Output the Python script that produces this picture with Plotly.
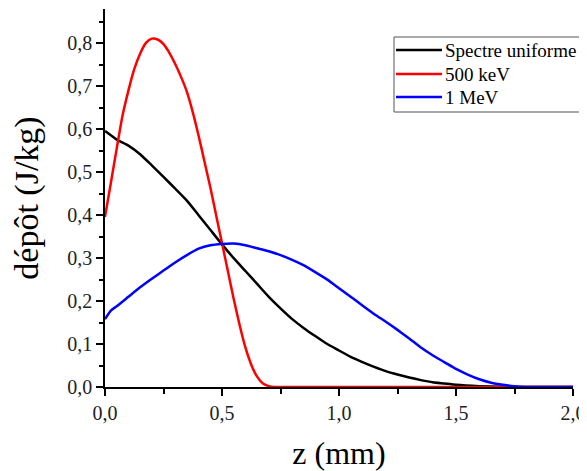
import plotly.graph_objects as go

# ---- data ----
series_names = ["Spectre uniforme", "500 keV", "1 MeV"]
series_colors = ["#000000", "#FF0000", "#0000FF"]

z_red = [0, 0.025, 0.05, 0.075, 0.1, 0.125, 0.15, 0.175, 0.2, 0.225, 0.25, 0.275, 0.3,
         0.325, 0.35, 0.375, 0.4, 0.425, 0.45, 0.475, 0.5, 0.525, 0.55, 0.575, 0.6,
         0.625, 0.65, 0.675, 0.7, 0.725, 0.75, 1.0, 1.5, 2.0]
dep_500keV = [0.396, 0.475, 0.555, 0.632, 0.69, 0.74, 0.776, 0.801, 0.811, 0.809, 0.798,
              0.778, 0.752, 0.722, 0.687, 0.64, 0.585, 0.525, 0.465, 0.40, 0.335, 0.27,
              0.205, 0.145, 0.092, 0.052, 0.024, 0.008, 0.002, 0.0, 0.0, 0.0, 0.0, 0.0]

z_black = [0, 0.025, 0.05, 0.1, 0.15, 0.2, 0.25, 0.3, 0.35, 0.4, 0.45, 0.5, 0.55, 0.6,
           0.65, 0.7, 0.75, 0.8, 0.85, 0.9, 0.95, 1.0, 1.05, 1.1, 1.15, 1.2, 1.25, 1.3,
           1.35, 1.4, 1.45, 1.5, 1.6, 1.7, 1.8, 2.0]
dep_uniforme = [0.596, 0.586, 0.576, 0.562, 0.542, 0.516, 0.489, 0.462, 0.434, 0.4, 0.366,
                0.332, 0.3, 0.27, 0.24, 0.21, 0.183, 0.158, 0.137, 0.118, 0.1, 0.085,
                0.07, 0.058, 0.047, 0.037, 0.029, 0.022, 0.016, 0.011, 0.008, 0.005,
                0.002, 0.0005, 0.0, 0.0]

z_blue = [0, 0.025, 0.05, 0.1, 0.15, 0.2, 0.25, 0.3, 0.35, 0.4, 0.45, 0.5, 0.55, 0.6,
          0.65, 0.7, 0.75, 0.8, 0.85, 0.9, 0.95, 1.0, 1.05, 1.1, 1.15, 1.2, 1.25, 1.3,
          1.35, 1.4, 1.45, 1.5, 1.55, 1.6, 1.65, 1.7, 1.75, 1.8, 2.0]
dep_1MeV = [0.158, 0.178, 0.188, 0.21, 0.232, 0.252, 0.271, 0.29, 0.307, 0.322, 0.33,
            0.333, 0.334, 0.33, 0.323, 0.316, 0.307, 0.296, 0.283, 0.267, 0.25, 0.23,
            0.21, 0.19, 0.17, 0.152, 0.133, 0.113, 0.092, 0.074, 0.058, 0.042, 0.029,
            0.018, 0.01, 0.005, 0.0015, 0.0, 0.0]

x_ticks = [0.0, 0.5, 1.0, 1.5, 2.0]
y_ticks = [0.0, 0.1, 0.2, 0.3, 0.4, 0.5, 0.6, 0.7, 0.8]

FONT = "Liberation Serif, Times New Roman, serif"

# page has an 8px body margin; figure sized so it ends at the window edge
OFF = 8
W, H = 587 - OFF, 471 - OFF
ML, MR, MT, MB = 105 - OFF, 14, 9 - OFF, 84
PW, PH = W - ML - MR, H - MT - MB


def px_x(p):
    return (p - OFF - ML) / PW


def px_y(p):
    return (H - MB - (p - OFF)) / PH


fig = go.Figure()
for xs, ys, name, col in [(z_black, dep_uniforme, series_names[0], series_colors[0]),
                          (z_red, dep_500keV, series_names[1], series_colors[1]),
                          (z_blue, dep_1MeV, series_names[2], series_colors[2])]:
    fig.add_trace(go.Scatter(x=xs, y=ys, mode="lines", name=name, showlegend=False,
                             line=dict(color=col, width=2.5, shape="spline", smoothing=0.6)))

# legend box drawn as shapes + text
shapes = [dict(type="rect", xref="paper", yref="paper",
               x0=px_x(394), x1=px_x(584), y0=px_y(112), y1=px_y(37),
               line=dict(color="#555555", width=1), fillcolor="white", layer="above")]
annotations = []
row_y = [50, 74, 97]
for name, col, ry in zip(series_names, series_colors, row_y):
    shapes.append(dict(type="line", xref="paper", yref="paper",
                       x0=px_x(396), x1=px_x(442), y0=px_y(ry), y1=px_y(ry),
                       line=dict(color=col, width=2.5), layer="above"))
    annotations.append(dict(xref="paper", yref="paper", x=px_x(443), y=px_y(ry),
                            xanchor="left", yanchor="middle", showarrow=False,
                            text=name, font=dict(family=FONT, size=19, color="#000000")))

fig.update_layout(
    width=W, height=H,
    margin=dict(l=ML, r=MR, t=MT, b=MB),
    paper_bgcolor="white", plot_bgcolor="white",
    separators=", ",
    font=dict(family=FONT, color="#000000"),
    showlegend=False,
    shapes=shapes,
    annotations=annotations,
)

fig.update_xaxes(
    range=[0, 2.0], tickvals=x_ticks, tickformat=".1f",
    showline=True, linecolor="#000000", linewidth=1.5,
    ticks="outside", ticklen=7, tickwidth=1.5, tickcolor="#000000",
    minor=dict(ticks="outside", ticklen=5, tickwidth=1.5, tickcolor="#000000", dtick=0.25, showgrid=False),
    showgrid=False, zeroline=False,
    tickfont=dict(family=FONT, size=20, color="#222222"),
    title=dict(text="z (mm)", font=dict(family=FONT, size=32, color="#000000"), standoff=19),
)
fig.update_yaxes(
    range=[0, 0.88], tickvals=y_ticks, tickformat=".1f",
    showline=True, linecolor="#000000", linewidth=1.5,
    ticks="outside", ticklen=7, tickwidth=1.5, tickcolor="#000000",
    minor=dict(ticks="outside", ticklen=4, tickwidth=1.5, tickcolor="#000000", dtick=0.05, showgrid=False),
    showgrid=False, zeroline=False,
    tickfont=dict(family=FONT, size=20, color="#222222"),
    title=dict(text="dépôt (J/kg)", font=dict(family=FONT, size=34, color="#000000"), standoff=22),
)

fig.write_html("out.html", config={"displayModeBar": False})
